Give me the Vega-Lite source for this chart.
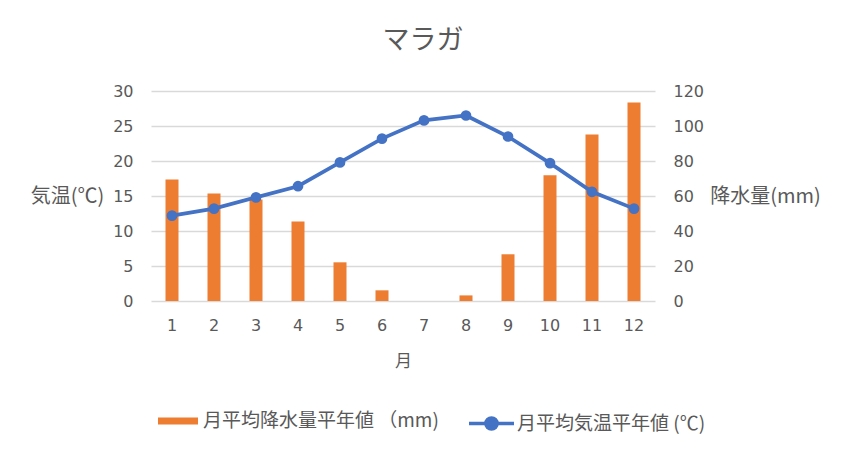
{
  "$schema": "https://vega.github.io/schema/vega-lite/v6.json",
  "width": 504,
  "height": 210,
  "autosize": {"type": "none"},
  "padding": {"left": 151, "top": 91, "right": 194, "bottom": 151},
  "background": "white",
  "config": {
    "font": "Noto Sans CJK JP",
    "view": {"stroke": null},
    "axis": {"labelColor": "#595959", "titleColor": "#595959", "labelFontSize": 16, "titleFontSize": 20, "titleFontWeight": "normal", "labelFont": "DejaVu Sans", "titleFont": "Noto Sans CJK JP", "labelOverlap": false},
    "legend": {"labelColor": "#595959", "labelFontSize": 19, "labelFont": "Noto Sans CJK JP", "labelLimit": 0}
  },
  "title": {
    "text": "マラガ",
    "fontSize": 27,
    "fontWeight": "normal",
    "color": "#595959",
    "anchor": "middle",
    "frame": "group",
    "dx": 20,
    "baseline": "alphabetic",
    "offset": 7
  },
  "data": {
    "values": [
      {"month": 1, "precip": 69.5, "temp": 12.2},
      {"month": 2, "precip": 61.5, "temp": 13.2},
      {"month": 3, "precip": 58.0, "temp": 14.8},
      {"month": 4, "precip": 45.5, "temp": 16.4},
      {"month": 5, "precip": 22.1, "temp": 19.8},
      {"month": 6, "precip": 6.1, "temp": 23.2},
      {"month": 7, "precip": 0.0, "temp": 25.8},
      {"month": 8, "precip": 3.2, "temp": 26.5},
      {"month": 9, "precip": 26.7, "temp": 23.5},
      {"month": 10, "precip": 71.8, "temp": 19.7},
      {"month": 11, "precip": 95.2, "temp": 15.6},
      {"month": 12, "precip": 113.5, "temp": 13.2}
    ]
  },
  "encoding": {
    "x": {
      "field": "month",
      "type": "ordinal",
      "title": "月",
      "scale": {"paddingInner": 0, "paddingOuter": 0},
      "axis": {"labelAngle": 0, "ticks": false, "domain": false, "grid": false, "labelPadding": 16, "titlePadding": 20, "titleFontSize": 17}
    }
  },
  "layer": [
    {
      "mark": {"type": "bar", "size": 13, "color": "#ED7D31"},
      "encoding": {
        "y": {
          "field": "precip",
          "type": "quantitative",
          "scale": {"domain": [0, 120], "nice": false},
          "axis": {"orient": "right", "values": [0, 20, 40, 60, 80, 100, 120], "grid": false, "ticks": false, "domain": false, "labelPadding": 18, "title": "降水量(mm)", "titleAngle": 0, "titleX": 110, "titleY": 105, "titleAlign": "center", "titleBaseline": "middle"}
        },
        "fill": {
          "datum": "月平均降水量平年値 （mm)",
          "scale": {"range": ["#ED7D31"]},
          "legend": {"title": null, "orient": "none", "legendX": 7, "legendY": 310, "padding": 0, "symbolType": "M-1,-0.175H1V0.175H-1Z", "symbolSize": 1600, "symbolStrokeWidth": 0, "labelOffset": 5}
        }
      }
    },
    {
      "encoding": {
        "y": {
          "field": "temp",
          "type": "quantitative",
          "scale": {"domain": [0, 30], "nice": false},
          "axis": {"orient": "left", "values": [0, 5, 10, 15, 20, 25, 30], "grid": true, "gridColor": "#d9d9d9", "gridWidth": 1.5, "ticks": false, "domain": false, "labelPadding": 18, "title": "気温(℃)", "titleAngle": 0, "titleX": -84, "titleY": 105, "titleAlign": "center", "titleBaseline": "middle"}
        }
      },
      "layer": [
        {
          "mark": {"type": "line", "color": "#4472C4", "strokeWidth": 3.7},
          "encoding": {
            "stroke": {
              "datum": "月平均気温平年値 (℃)",
              "scale": {"range": ["#4472C4"]},
              "legend": {"title": null, "orient": "none", "legendX": 316, "legendY": 308, "padding": 0, "symbolType": "M-1,0H1M-0.245,0A0.245,0.245 0 1,0 0.245,0A0.245,0.245 0 1,0 -0.245,0Z", "symbolSize": 2025, "symbolStrokeWidth": 3.7, "symbolFillColor": "#4472C4", "labelOffset": 1}
            }
          }
        },
        {
          "mark": {"type": "point", "filled": true, "size": 115, "color": "#4472C4", "opacity": 1}
        }
      ]
    }
  ],
  "resolve": {"scale": {"y": "independent"}}
}
